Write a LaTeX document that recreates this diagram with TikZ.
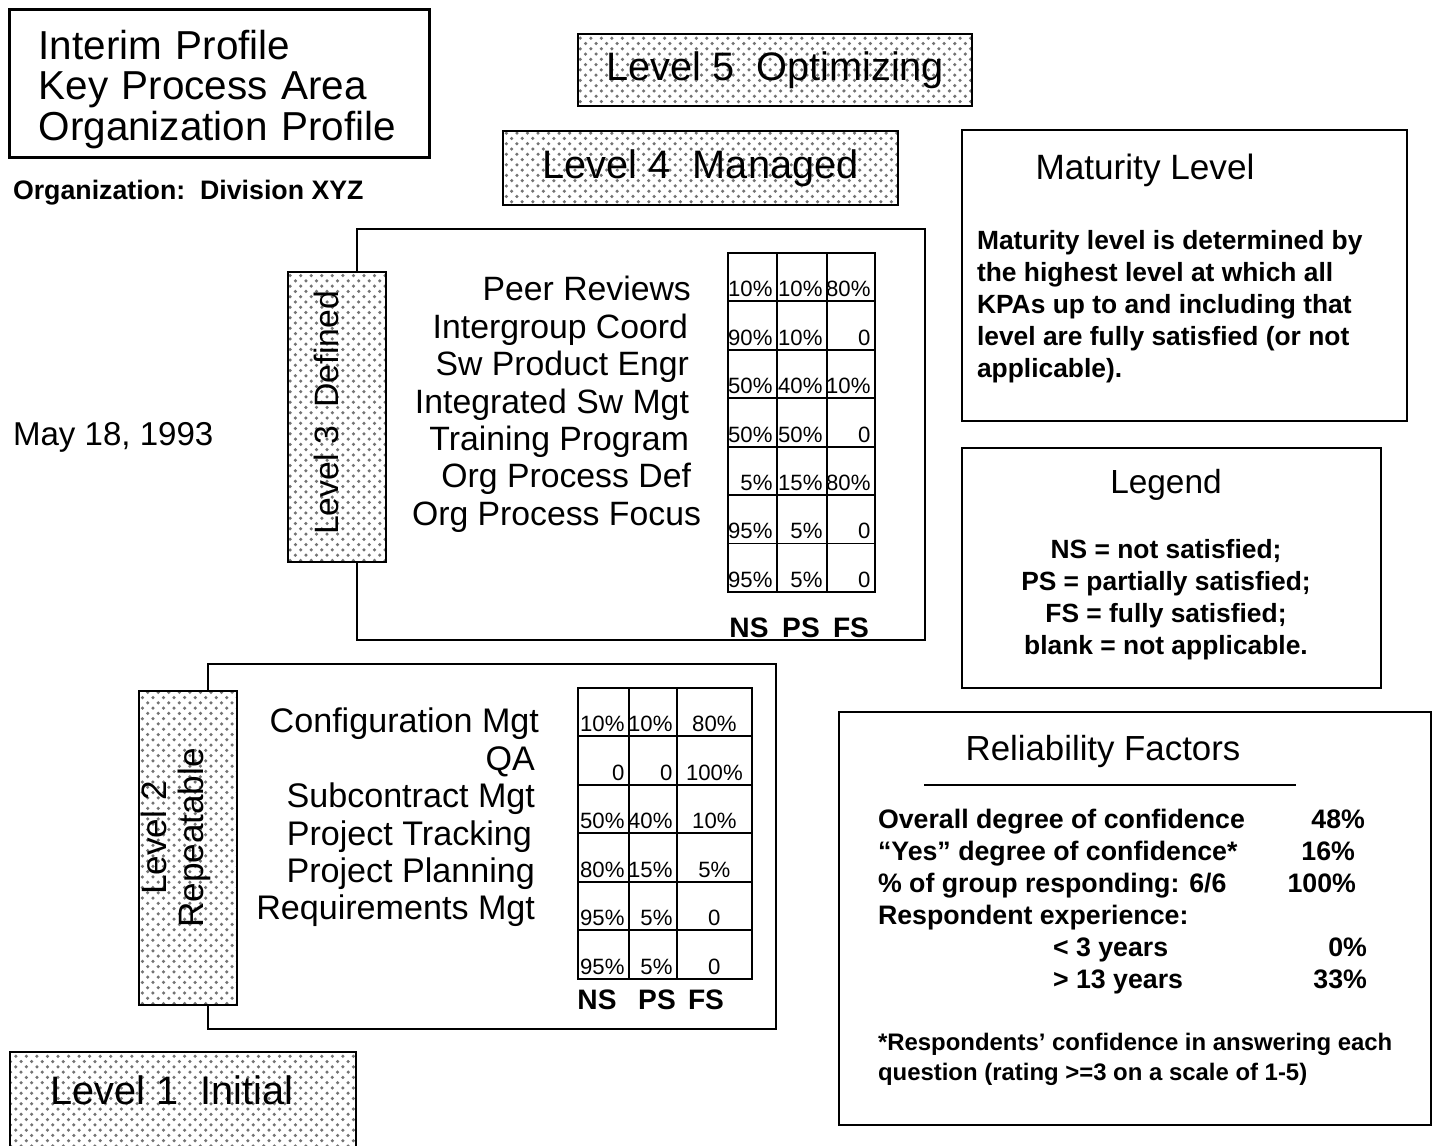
\documentclass[tikz,border=0pt]{standalone}
\usepackage{fontspec}
\setmainfont{Liberation Sans}
\usetikzlibrary{positioning,patterns}
\newcommand{\kpafont}{\fontsize{9.6}{11}\selectfont}
\newcommand{\cellfont}{\fontsize{6.3}{7}\selectfont}
\newcommand{\notefont}{\fontsize{7.5}{9.1}\selectfont\bfseries}

\begin{document}
\begin{tikzpicture}[x=0.01cm, y=-0.01cm, semithick,
  levelbox/.style={draw, line width=0.6pt, preaction={fill=white}, pattern=crosshatch dots, pattern color=black!55, anchor=north west, inner sep=0pt, font=\fontsize{11.3}{13}\selectfont},
  panel/.style={draw, line width=0.6pt, anchor=north west, inner sep=0pt},
  kpa/.style={anchor=base east, inner sep=0pt, font=\kpafont},
  cell/.style={draw, line width=0.5pt, anchor=north west, inner sep=0pt, minimum height=0.485cm},
  val/.style={anchor=south east, inner sep=1.2pt, font=\cellfont},
  head/.style={inner sep=0pt, font=\fontsize{8}{9}\selectfont\bfseries},
  row/.style={anchor=base west, inner sep=0pt, font=\fontsize{7.6}{8}\selectfont\bfseries},
  num/.style={anchor=base east, inner sep=0pt, font=\fontsize{7.6}{8}\selectfont\bfseries}]
\useasboundingbox (0,0) rectangle (1432,1146);

% title and headings
\node[draw, line width=0.9pt, anchor=north west, align=left, text width=3.62cm, inner xsep=0.29cm, inner ysep=0pt, minimum height=1.48cm, font=\fontsize{11.5}{11.4}\selectfont] (title) at (8,8) {\rule{0pt}{0.41cm}Interim Profile\\Key Process Area\\Organization Profile};
\node[anchor=west, inner sep=0pt, font=\fontsize{7.6}{8}\selectfont\bfseries] (org) at (12,193) {Organization:\ \ Division XYZ};
\node[anchor=west, inner sep=0pt, font=\fontsize{9.4}{11}\selectfont] (date) at (12,437) {May 18, 1993};

% levels 5, 4, 1
\node[levelbox, minimum width=3.94cm, minimum height=0.72cm] (lvlfive) at (577,33) {Level 5\ \ Optimizing};
\node[levelbox, minimum width=3.95cm, minimum height=0.74cm] (lvlfour) at (502,130) {Level 4\ \ Managed};
\path[draw, line width=0.6pt, pattern=crosshatch dots, pattern color=black!55] (10,1052) rectangle (356,1170);
\node[inner sep=0pt, font=\fontsize{11.3}{13}\selectfont] (lvlone) at (172,1090) {Level 1\ \ Initial};

% level 3
\node[panel, minimum width=5.68cm, minimum height=4.11cm] (pthree) at (356,228) {};
\node[levelbox, minimum width=0.98cm, minimum height=2.90cm] (lvlthree) at (287,271) {};
\node[rotate=90, inner sep=0pt, font=\fontsize{9.6}{11}\selectfont] (lvlthreetxt) at (326,413) {Level 3\ \ Defined};
\foreach \t/\x [count=\i] in {Peer Reviews/692, Intergroup Coord/689, Sw Product Engr/690, Integrated Sw Mgt/690, Training Program/690, Org Process Def/692, Org Process Focus/702}
  \node[kpa] (kthree-\i) at (\x,{301+37.4*(\i-1)}) {\t};
\foreach \a/\b/\c [count=\i] in {10\%/10\%/80\%, 90\%/10\%/0, 50\%/40\%/10\%, 50\%/50\%/0, 5\%/15\%/80\%, 95\%/5\%/0, 95\%/5\%/0}{
  \node[cell, minimum width=0.49cm] (tthree-\i-1) at (727,{252+48.43*(\i-1)}) {};
  \node[cell, minimum width=0.50cm] (tthree-\i-2) at (776,{252+48.43*(\i-1)}) {};
  \node[cell, minimum width=0.48cm] (tthree-\i-3) at (826,{252+48.43*(\i-1)}) {};
  \node[val] (vthree-\i-1) at (tthree-\i-1.south east) {\a};
  \node[val] (vthree-\i-2) at (tthree-\i-2.south east) {\b};
  \node[val] (vthree-\i-3) at (tthree-\i-3.south east) {\c};
}
\node[head] (nsthree) at (749,628) {NS};
\node[head] (psthree) at (801,628) {PS};
\node[head] (fsthree) at (851,628) {FS};

% level 2
\node[panel, minimum width=5.68cm, minimum height=3.65cm] (ptwo) at (207,663) {};
\node[levelbox, minimum width=0.98cm, minimum height=3.14cm] (lvltwo) at (138,690) {};
\node[rotate=90, inner sep=0pt, align=center, font=\fontsize{10}{10.5}\selectfont] (lvltwotxt) at (176,838) {Level 2\\Repeatable};
\foreach \t/\x [count=\i] in {Configuration Mgt/540, QA/536, Subcontract Mgt/536, Project Tracking/533, Project Planning/536, Requirements Mgt/536}
  \node[kpa, font=\fontsize{9.7}{11}\selectfont] (ktwo-\i) at (\x,{733+37.4*(\i-1)}) {\t};
\foreach \a/\b/\c [count=\i] in {10\%/10\%/80\%, 0/0/100\%, 50\%/40\%/10\%, 80\%/15\%/5\%, 95\%/5\%/0, 95\%/5\%/0}{
  \node[cell, minimum width=0.51cm] (ttwo-\i-1) at (577,{687+48.5*(\i-1)}) {};
  \node[cell, minimum width=0.48cm] (ttwo-\i-2) at (628,{687+48.5*(\i-1)}) {};
  \node[cell, minimum width=0.75cm] (ttwo-\i-3) at (676,{687+48.5*(\i-1)}) {};
  \node[val] (vtwo-\i-1) at (ttwo-\i-1.south east) {\a};
  \node[val] (vtwo-\i-2) at (ttwo-\i-2.south east) {\b};
  \node[val, anchor=south] (vtwo-\i-3) at (ttwo-\i-3.south) {\c};
}
\node[head] (nstwo) at (597,1000) {NS};
\node[head] (pstwo) at (657,1000) {PS};
\node[head] (fstwo) at (706,1000) {FS};

% maturity level
\node[panel, minimum width=4.45cm, minimum height=2.91cm] (mat) at (961,129) {};
\node[inner sep=0pt, font=\fontsize{10}{11}\selectfont] (mattitle) at (1145,170) {Maturity Level};
\node[anchor=north west, inner sep=0pt, align=left, font=\notefont] (mattext) at (976,229) {Maturity level is determined by\\the highest level at which all\\KPAs up to and including that\\level are fully satisfied (or not\\applicable).};

% legend
\node[panel, minimum width=4.19cm, minimum height=2.40cm] (leg) at (961,447) {};
\node[inner sep=0pt, font=\fontsize{9.5}{11}\selectfont] (legtitle) at (1166,485) {Legend};
\node[inner sep=0pt, align=center, font=\notefont] (legtext) at (1166,600) {NS = not satisfied;\\PS = partially satisfied;\\FS = fully satisfied;\\blank = not applicable.};

% reliability factors
\node[panel, minimum width=5.92cm, minimum height=4.13cm] (rel) at (838,711) {};
\node[inner sep=0pt, font=\fontsize{9.9}{11}\selectfont] (reltitle) at (1103,752) {Reliability Factors};
\coordinate (rulea) at (924,785);
\coordinate (ruleb) at (1296,785);
\draw[line width=0.6pt] (rulea) -- (ruleb);
\node[row] (ra) at (877,829) {Overall degree of confidence};
\node[row] (rb) at (877,861) {``Yes'' degree of confidence*};
\node[row] (rc) at (877,893) {\% of group responding: 6/6};
\node[row] (rd) at (877,925) {Respondent experience:};
\node[row] (re) at (1052,957) {< 3 years};
\node[row] (rf) at (1052,989) {> 13 years};
\node[num] (na) at (1366,829) {48\%};
\node[num] (nb) at (1356,861) {16\%};
\node[num] (nc) at (1357,893) {100\%};
\node[num] (ne) at (1368,957) {0\%};
\node[num] (nf) at (1368,989) {33\%};
\node[anchor=north west, inner sep=0pt, align=left, font=\fontsize{6.8}{8.6}\selectfont\bfseries] (relnote) at (877,1032) {*Respondents' confidence in answering each\\question (rating >=3 on a scale of 1-5)};
\end{tikzpicture}
\end{document}
